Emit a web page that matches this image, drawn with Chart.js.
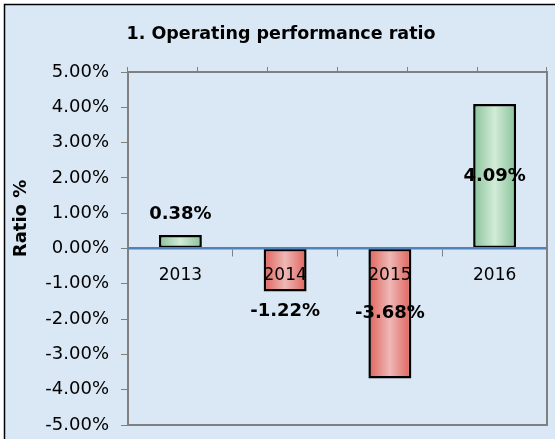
<!DOCTYPE html>
<html>
<head>
  <meta charset="UTF-8">
  <title>Operating performance ratio</title>
  <script src="https://cdn.jsdelivr.net/npm/chart.js"></script>
  <style>
    html, body { margin: 0; padding: 0; background: #fff; }
    #wrap { width: 555px; height: 439px; position: relative; }
  </style>
</head>
<body>
<div id="wrap"><canvas id="ratioChart"></canvas></div>
<script>
var years = ['2013', '2014', '2015', '2016'];
var ratios = [0.38, -1.22, -3.68, 4.09];
var yMin = -5, yMax = 5, yStep = 1;
var chartTitle = '1. Operating performance ratio';
var yTitle = 'Ratio %';

var FONT = '"DejaVu Sans", Verdana, sans-serif';
var BAR_PCT = 0.41;

function barGradient(c) {
  var chart = c.chart;
  var xs = chart.scales.x;
  var v = ratios[c.dataIndex];
  var edge = v >= 0 ? '#88c39a' : '#e0625a';
  var mid = v >= 0 ? '#d2ebd7' : '#eeb8b6';
  if (!xs || !chart.chartArea || c.dataIndex == null) return edge;
  var cx = xs.getPixelForValue(c.dataIndex);
  var w = xs.width / years.length * BAR_PCT;
  var g = chart.ctx.createLinearGradient(cx - w / 2, 0, cx + w / 2, 0);
  g.addColorStop(0, edge);
  g.addColorStop(0.5, mid);
  g.addColorStop(1, edge);
  return g;
}

// background, outer frame, plot frame, axis title, value labels
var decor = {
  id: 'decor',
  beforeDraw: function (chart) {
    var ctx = chart.ctx;
    ctx.save();
    ctx.fillStyle = '#ffffff';
    ctx.fillRect(0, 0, chart.width, chart.height);
    ctx.fillStyle = '#dae7f4';
    ctx.fillRect(5, 5, chart.width, chart.height);
    ctx.strokeStyle = '#000';
    ctx.lineWidth = 1.5;
    ctx.beginPath();
    ctx.moveTo(4.5, chart.height);
    ctx.lineTo(4.5, 4.5);
    ctx.lineTo(chart.width, 4.5);
    ctx.stroke();
    ctx.restore();
  },
  afterDraw: function (chart) {
    var ctx = chart.ctx;
    var a = chart.chartArea;
    var xs = chart.scales.x, ys = chart.scales.y;
    ctx.save();
    // right and bottom of the plot frame
    ctx.strokeStyle = '#808080';
    ctx.lineWidth = 2;
    ctx.beginPath();
    ctx.moveTo(a.right, a.top);
    ctx.lineTo(a.right, a.bottom);
    ctx.lineTo(a.left, a.bottom);
    ctx.stroke();

    // axis title
    ctx.fillStyle = '#000';
    ctx.font = 'bold 18px ' + FONT;
    ctx.textAlign = 'center';
    ctx.textBaseline = 'middle';
    ctx.translate(21, (a.top + a.bottom) / 2 - 30);
    ctx.rotate(-Math.PI / 2);
    ctx.fillText(yTitle, 0, 0);
    ctx.restore();

    // value labels
    ctx.save();
    ctx.fillStyle = '#000';
    ctx.font = 'bold 18px ' + FONT;
    ctx.textAlign = 'center';
    ctx.textBaseline = 'middle';
    var zero = ys.getPixelForValue(0);
    ratios.forEach(function (v, i) {
      var x = xs.getPixelForValue(i);
      var end = ys.getPixelForValue(v);
      var y;
      if (Math.abs(v) >= 2) y = (zero + end) / 2;
      else y = v >= 0 ? end - 21 : end + 20;
      ctx.fillText(v.toFixed(2) + '%', x, y);
    });
    ctx.restore();
  }
};

var chart = new Chart(document.getElementById('ratioChart'), {
  type: 'bar',
  data: {
    labels: years,
    datasets: [{
      data: ratios,
      backgroundColor: barGradient,
      borderColor: '#000',
      borderWidth: 2.5,
      borderSkipped: false,
      barPercentage: BAR_PCT,
      categoryPercentage: 1
    }]
  },
  options: {
    responsive: true,
    maintainAspectRatio: false,
    animation: false,
    layout: { padding: { left: 15, right: 8, top: 0, bottom: 14 } },
    plugins: {
      legend: { display: false },
      tooltip: { enabled: false },
      title: {
        display: true,
        text: chartTitle,
        color: '#000',
        font: { family: FONT, size: 17.5, weight: 'bold' },
        padding: { top: 24, bottom: 22 }
      }
    },
    scales: {
      x: {
        type: 'category',
        position: { y: 0 },
        offset: true,
        grid: { display: true, drawOnChartArea: false, drawTicks: true, tickLength: 7, color: '#808080', lineWidth: 1, offset: true },
        border: { display: true, color: '#4f81bd', width: 2.5, z: 1 },
        ticks: { color: '#000', font: { family: FONT, size: 17 }, padding: 10, z: 1 }
      },
      x2: {
        type: 'linear',
        position: 'top',
        min: 0,
        max: 5,
        ticks: { display: false, stepSize: 1 },
        grid: { display: true, drawOnChartArea: false, drawTicks: true, tickLength: 5, color: '#808080', lineWidth: 1 },
        border: { display: true, color: '#808080', width: 2 },
        afterFit: function (s) { s.height = 5; }
      },
      y: {
        position: 'left',
        min: yMin,
        max: yMax,
        ticks: {
          stepSize: yStep,
          color: '#000',
          font: { family: FONT, size: 18 },
          padding: 12,
          callback: function (v) { return v.toFixed(2) + '%'; }
        },
        grid: { display: true, drawOnChartArea: false, drawTicks: true, tickLength: 7, color: '#808080', lineWidth: 1 },
        border: { display: true, color: '#808080', width: 2 },
        afterFit: function (s) { s.width = 113; s.paddingTop = 0; s.paddingBottom = 0; }
      }
    }
  },
  plugins: [decor]
});
</script>
</body>
</html>
